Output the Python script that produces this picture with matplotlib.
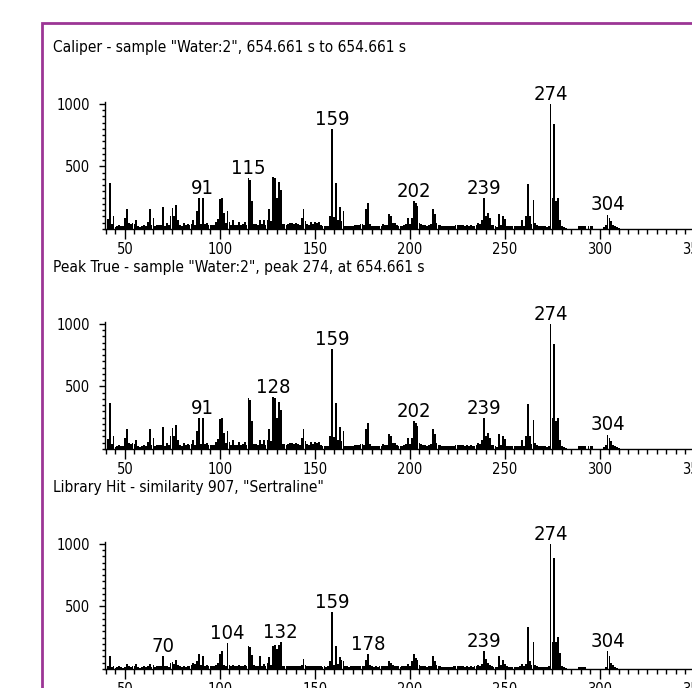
import matplotlib.pyplot as plt
from matplotlib.patches import Rectangle
from matplotlib.ticker import MultipleLocator

plt.rcParams['font.family'] = ['DejaVu Sans']
plt.rcParams['font.stretch'] = 'condensed'

# nominal masses 41..310, one intensity per mass (base peak = 1000)
mz = list(range(41, 311))

sample_int = [
    80, 370, 40, 100, 15, 25, 30, 25, 20, 90,        # 41-50
    160, 45, 40, 45, 40, 70, 20, 15, 25, 35,         # 51-60
    25, 55, 160, 30, 85, 25, 35, 30, 30, 175,        # 61-70
    25, 50, 30, 100, 165, 100, 190, 70, 30, 25,      # 71-80
    45, 30, 40, 35, 40, 70, 30, 145, 250, 40,        # 81-90
    250, 40, 45, 35, 30, 35, 30, 55, 80, 240,        # 91-100
    250, 125, 50, 145, 55, 35, 70, 35, 30, 55,       # 101-110
    30, 40, 55, 30, 410, 395, 225, 40, 40, 35,       # 111-120
    70, 40, 70, 30, 70, 160, 60, 415, 405, 250,      # 121-130
    375, 315, 40, 40, 35, 40, 45, 45, 40, 45,        # 131-140
    40, 35, 85, 160, 60, 40, 35, 55, 40, 55,         # 141-150
    50, 55, 30, 25, 25, 20, 25, 100, 800, 95,        # 151-160
    370, 70, 175, 60, 145, 25, 25, 20, 25, 25,       # 161-170
    30, 35, 35, 40, 40, 35, 160, 210, 40, 25,        # 171-180
    20, 20, 25, 20, 25, 40, 30, 35, 120, 100,        # 181-190
    50, 45, 30, 25, 25, 25, 35, 40, 90, 40,          # 191-200
    90, 225, 205, 185, 45, 40, 30, 30, 25, 30,       # 201-210
    40, 160, 120, 50, 30, 30, 25, 25, 25, 20,        # 211-220
    20, 20, 25, 30, 35, 30, 35, 30, 25, 30,          # 221-230
    25, 30, 20, 25, 30, 45, 40, 75, 250, 100,        # 231-240
    130, 90, 35, 30, 20, 15, 120, 35, 100, 80,       # 241-250
    25, 20, 20, 20, 20, 20, 20, 20, 75, 20,          # 251-260
    100, 360, 100, 40, 230, 45, 30, 20, 20, 20,      # 261-270
    20, 15, 20, 1000, 250, 840, 225, 245, 70, 25,    # 271-280
    15, 10, 0, 0, 0, 0, 0, 0, 20, 20,                # 281-290
    20, 20, 0, 20, 20, 20, 0, 0, 0, 0,               # 291-300
    0, 15, 30, 115, 85, 60, 35, 20, 15, 10,          # 301-310
]

library_int = [
    20, 105, 15, 27, 10, 15, 20, 15, 10, 15,         # 41-50
    40, 20, 15, 25, 20, 40, 15, 10, 15, 25,          # 51-60
    15, 20, 40, 15, 30, 15, 20, 20, 25, 100,         # 61-70
    20, 25, 15, 45, 55, 40, 70, 35, 20, 15,          # 71-80
    25, 15, 20, 25, 30, 45, 40, 63, 118, 30,         # 81-90
    105, 25, 30, 20, 25, 20, 25, 35, 45, 118,        # 91-100
    142, 30, 25, 205, 30, 20, 35, 20, 25, 35,        # 101-110
    20, 25, 35, 20, 183, 178, 112, 30, 20, 25,       # 111-120
    106, 20, 40, 20, 45, 95, 30, 185, 190, 158,      # 121-130
    195, 217, 25, 20, 20, 25, 20, 20, 25, 20,        # 131-140
    25, 20, 30, 78, 30, 20, 25, 20, 20, 25,          # 141-150
    20, 25, 20, 15, 20, 15, 20, 60, 452, 30,         # 151-160
    180, 40, 95, 75, 65, 20, 20, 15, 20, 20,         # 161-170
    20, 25, 20, 25, 20, 25, 70, 118, 30, 20,         # 171-180
    15, 20, 15, 20, 20, 25, 20, 25, 60, 45,          # 181-190
    30, 25, 20, 20, 15, 20, 25, 25, 40, 25,          # 191-200
    60, 118, 90, 75, 30, 25, 20, 20, 15, 20,         # 201-210
    25, 100, 60, 30, 20, 20, 15, 15, 15, 15,         # 211-220
    15, 15, 20, 25, 25, 25, 20, 20, 15, 20,          # 221-230
    15, 20, 15, 20, 25, 30, 25, 40, 145, 80,         # 231-240
    48, 30, 20, 15, 15, 15, 103, 30, 75, 40,         # 241-250
    20, 15, 15, 15, 15, 15, 15, 20, 40, 20,          # 251-260
    40, 338, 60, 30, 219, 30, 20, 15, 15, 15,        # 261-270
    15, 15, 20, 1000, 219, 886, 219, 252, 125, 20,   # 271-280
    15, 10, 0, 0, 0, 0, 0, 0, 15, 15,                # 281-290
    15, 15, 0, 0, 0, 0, 0, 0, 0, 0,                  # 291-300
    0, 0, 15, 145, 103, 50, 30, 15, 10, 0,           # 301-310
]

titles = [
    'Caliper - sample "Water:2", 654.661 s to 654.661 s',
    'Peak True - sample "Water:2", peak 274, at 654.661 s',
    'Library Hit - similarity 907, "Sertraline"',
]
spectra = [sample_int, sample_int, library_int]
peak_labels = [
    [91, 115, 159, 202, 239, 274, 304],
    [91, 128, 159, 202, 239, 274, 304],
    [70, 104, 132, 159, 178, 239, 274, 304],
]

W, H = 692, 688
fig = plt.figure(figsize=(W / 100, H / 100), dpi=100)

# purple frame; runs past the right and bottom edges
fig.add_artist(Rectangle((42 / W, -0.1), 1.0, 1 - 23 / H + 0.1,
                         transform=fig.transFigure, fill=False,
                         edgecolor='#9c3595', linewidth=2))

for i in range(3):
    base = 229 + 220 * i          # pixel row of the zero line
    ax = fig.add_axes([105 / W, (H - base) / H, 1.9 * (351 - 39.5) / W, 127.3 / H])
    ax.bar(mz, spectra[i], width=0.95, color='black', linewidth=0)
    ax.set_xlim(39.5, 351)
    ax.set_ylim(0, 1018)

    for s in ['top', 'right']:
        ax.spines[s].set_visible(False)
    for s in ['left', 'bottom']:
        ax.spines[s].set_linewidth(1)

    ax.set_xticks([50, 100, 150, 200, 250, 300, 350])
    ax.xaxis.set_minor_locator(MultipleLocator(5))
    ax.set_yticks([500, 1000])
    ax.yaxis.set_minor_locator(MultipleLocator(50))
    ax.tick_params(axis='x', which='major', length=7.5, width=1, pad=2, labelsize=10.5)
    ax.tick_params(axis='x', which='minor', length=3.6, width=1)
    ax.tick_params(axis='y', which='major', length=4.5, width=1, pad=6, labelsize=10.5)
    ax.tick_params(axis='y', which='minor', length=2, width=1)
    for lbl in ax.get_xticklabels() + ax.get_yticklabels():
        lbl.set_fontstretch('condensed')

    ints = dict(zip(mz, spectra[i]))
    for m in peak_labels[i]:
        ax.annotate(str(m), xy=(m, ints[m]), xytext=(0, 3), textcoords='offset points',
                    ha='center', va='baseline', fontsize=14.5, fontstretch='condensed')

    fig.text(53 / W, 1 - (52 + 220 * i) / H, titles[i], ha='left', va='baseline',
             fontsize=11.1, fontstretch='condensed')

fig.savefig('out.png', dpi=100)
